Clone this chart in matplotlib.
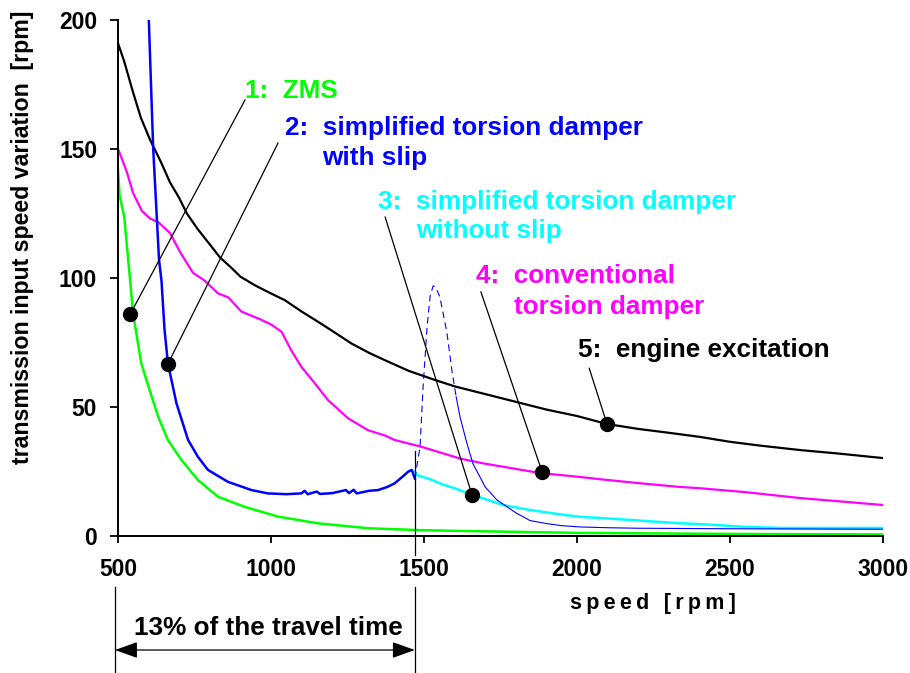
import matplotlib
matplotlib.use('Agg')
import matplotlib.pyplot as plt

plt.rcParams['font.family'] = ['Liberation Sans', 'DejaVu Sans']
plt.rcParams['font.weight'] = 'bold'

# 5: engine excitation
engine_x = [500, 520, 549, 575, 605, 640, 670, 700, 725, 760, 800, 833, 870, 900, 950, 1000,
            1045, 1100, 1154, 1200, 1263, 1320, 1371, 1450, 1535, 1600, 1700, 1800, 1900, 2000,
            2098, 2200, 2300, 2402, 2500, 2600, 2729, 2850, 3000]
engine_y = [191, 184, 172, 162, 153.5, 145, 137, 131, 125, 119, 113, 108, 104, 100.5, 97, 94,
            91.4, 87, 83, 79.5, 74.6, 71, 68.2, 64, 60.5, 58, 55, 52, 49, 46.5,
            43.4, 41.5, 40, 38.4, 36.5, 35, 33.3, 32, 30.2]

# 4: conventional torsion damper
conv_x = [500, 510, 529, 549, 578, 605, 631, 670, 703, 745, 783, 827, 860, 903, 968, 1000,
          1034, 1066, 1099, 1143, 1186, 1252, 1317, 1371, 1404, 1491, 1546, 1618, 1700, 1800,
          1879, 2000, 2075, 2200, 2337, 2402, 2550, 2729, 2850, 3000]
conv_y = [150, 147, 141, 133, 126, 123, 121.7, 117.4, 110, 102, 99, 94, 92.5, 87, 83.8, 82,
          79.2, 72, 65.6, 59.2, 52.7, 45.6, 41, 39, 37.2, 34.6, 32.6, 30, 28, 26,
          24.4, 23, 22, 20.5, 19, 18.5, 17, 14.7, 13.5, 12]

# 1: ZMS
zms_x = [500, 505, 520, 538, 549, 576, 603, 631, 663, 707, 761, 827, 914, 1023, 1154, 1317,
         1480, 1600, 2000, 2500, 3000]
zms_y = [142, 132, 124, 101, 86.3, 66.9, 56.6, 46.3, 37.2, 29.5, 21.7, 15.2, 11.3, 7.5, 4.9, 3.0,
         2.3, 2.0, 1.2, 0.8, 0.6]

# 2: simplified torsion damper with slip
slip_x = [600, 615, 634, 642, 652, 663, 691, 729, 761, 794, 859, 936, 990, 1050, 1099, 1110,
          1120, 1150, 1160, 1200, 1245, 1255, 1270, 1280, 1320, 1350, 1380, 1404, 1430, 1448,
          1460, 1470]
slip_y = [202, 150, 107, 99, 80, 66.9, 51.4, 37.2, 30.7, 25.6, 21, 17.8, 16.5, 16.2, 16.5, 17.5,
          16.2, 17.2, 16.3, 16.6, 17.8, 16.6, 17.9, 16.5, 17.5, 17.8, 19, 20.4, 23, 24.9,
          25.6, 22.3]
resonance_x = [1470, 1487, 1497, 1510, 1520, 1530, 1540, 1552, 1575, 1591, 1605]
resonance_y = [22.3, 34.5, 57.8, 81, 93, 97, 96, 92.6, 78.7, 64.3, 54]
slip_tail_x = [1605, 1618, 1640, 1660, 1700, 1738, 1800, 1846, 1900, 1950, 2010, 2100, 2200,
               2500, 3000]
slip_tail_y = [54, 46, 36, 28, 19, 14, 9, 6, 4.8, 4.0, 3.5, 3.2, 3.0, 2.8, 2.6]

# 3: simplified torsion damper without slip
noslip_x = [1470, 1477, 1520, 1560, 1600, 1657, 1700, 1758, 1850, 1950, 2010, 2075, 2200, 2327,
            2450, 2550, 2673, 2800, 3000]
noslip_y = [25, 23.6, 22, 20, 18.5, 16, 14.3, 12, 10, 8.3, 7.4, 7, 6, 5, 4.3, 3.5, 3.1, 3.1, 3.1]

# marked points and their labels
dot_x = [540, 663, 1657, 1886, 2098]
dot_y = [86, 66.7, 15.9, 24.8, 43.4]
labels = [('1:  ZMS', None),
          ('2:  simplified torsion damper', 'with slip'),
          ('3:  simplified torsion damper', 'without slip'),
          ('4:  conventional', 'torsion damper'),
          ('5:  engine excitation', None)]
label_colors = ['#00ff00', '#0000ff', '#00ffff', '#ff00ff', 'black']
slip_end = 1470

fig = plt.figure(figsize=(9.1, 6.73), dpi=100)
ax = fig.add_axes([0.1297, 0.2036, 0.8406, 0.7667])

ax.plot(engine_x, engine_y, color='black', lw=1.6)
ax.plot(conv_x, conv_y, color='#ff00ff', lw=1.6)
ax.plot(zms_x, zms_y, color='#00ff00', lw=1.8)
ax.plot(noslip_x, noslip_y, color='#00ffff', lw=1.8)
ax.plot(slip_x, slip_y, color='#0000ff', lw=1.8)
ax.plot(resonance_x, resonance_y, color='#0000ff', lw=0.8, ls=(0, (6, 4)))
ax.plot(slip_tail_x, slip_tail_y, color='#0000ff', lw=0.8)

# leader lines from labels to dots
starts = [(915, 169), (1023, 152.3), (1373, 123.6), (1686, 94.6), (2040, 65)]
text_pos = [(915, 169.8, None), (1046, 155.4, (1167, 143.8)), (1350, 126.6, (1474, 115.4)),
            (1670, 97.9, (1794, 86)), (2003, 69.5, None)]
for i in range(5):
    sx, sy = starts[i]
    ax.plot([sx, dot_x[i]], [sy, dot_y[i]], color='black', lw=0.9)
    tx, ty, second = text_pos[i]
    ax.text(tx, ty, labels[i][0], color=label_colors[i], fontsize=18.8, va='baseline')
    if second is not None:
        ax.text(second[0], second[1], labels[i][1], color=label_colors[i], fontsize=18.8,
                va='baseline')
ax.plot(dot_x, dot_y, 'o', color='black', ms=10, zorder=5)

# travel time marker
ax.plot([slip_end, slip_end], [33, -7.4], color='black', lw=0.9, clip_on=False)
ax.plot([490, 490], [-19.8, -53], color='black', lw=0.9, clip_on=False)
ax.plot([slip_end, slip_end], [-19.8, -53], color='black', lw=0.9, clip_on=False)
ax.annotate('', xy=(490, -44.2), xytext=(slip_end, -44.2), annotation_clip=False,
            arrowprops=dict(arrowstyle='<|-|>,head_length=0.7,head_width=0.25',
                            color='black', lw=0.9, mutation_scale=20, shrinkA=0, shrinkB=0))
ax.text(990, -38.4, '13% of the travel time', fontsize=18.8, ha='center', va='baseline')

ax.set_xlim(500, 3000)
ax.set_ylim(0, 200)
ax.set_xticks([500, 1000, 1500, 2000, 2500, 3000])
ax.set_yticks([0, 50, 100, 150, 200])
ax.tick_params(axis='x', direction='out', length=5, width=1.3, pad=10.5, labelsize=16.5)
ax.tick_params(axis='y', direction='out', length=6, width=1.3, pad=9, labelsize=16.5)
for s in ['top', 'right']:
    ax.spines[s].set_visible(False)
for s in ['left', 'bottom']:
    ax.spines[s].set_linewidth(1.4)

fig.text(23 / 910, 1 - 237.5 / 673, 'transmission input speed variation  [rpm]',
         rotation=90, ha='center', va='center', fontsize=16.7)
fig.text(653 / 910, 1 - 604 / 673, '\u2009'.join('speed') + '\u2009 \u2009' + '\u2009'.join('[rpm]'),
         ha='center', va='center', fontsize=15.5)

fig.savefig('out.png', dpi=100)
